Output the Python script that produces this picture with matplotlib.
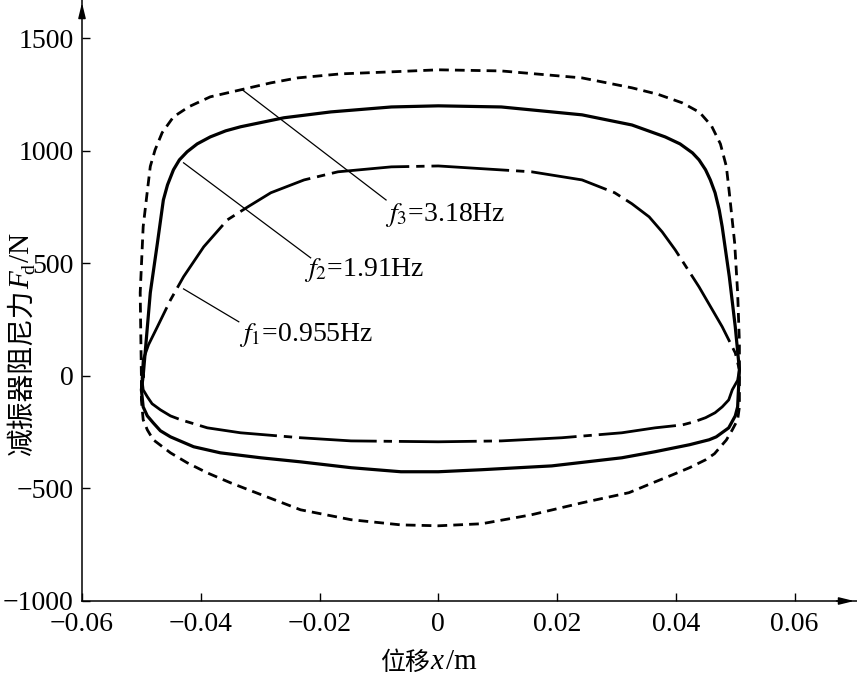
import numpy as np
import matplotlib
matplotlib.use("Agg")
import matplotlib.pyplot as plt

plt.rcParams["font.family"] = ["Liberation Serif", "Noto Sans CJK SC"]
plt.rcParams["mathtext.fontset"] = "stix"

# f3 = 3.18 Hz (dashed loop), displacement x in m, force in N
x_f3 = [-0.0500, -0.0502, -0.0497, -0.0490, -0.0485, -0.0477, -0.0465, -0.0446,
        -0.0420, -0.0384, -0.0333, -0.0282, -0.0237, -0.0164, -0.0079, 0.0,
        0.0106, 0.0242, 0.0326, 0.0370, 0.0411, 0.0440, 0.0460, 0.0475, 0.0485,
        0.0490, 0.0499, 0.0504, 0.0507, 0.0507, 0.0507, 0.0507, 0.0504, 0.0495,
        0.0485, 0.0465, 0.0450, 0.0423, 0.0394, 0.0365, 0.0321, 0.0242, 0.0157,
        0.0073, 0.0, -0.0063, -0.0147, -0.0232, -0.0311, -0.0350, -0.0389,
        -0.0423, -0.0451, -0.0480, -0.0490, -0.0497, -0.0500, -0.0500]
y_f3 = [0, 369, 662, 820, 930, 1003, 1080, 1150,
        1195, 1239, 1270, 1301, 1323, 1341, 1350, 1359,
        1354, 1323, 1279, 1250, 1212, 1170, 1110, 1030, 930,
        813, 590, 369, 147, 0, -62, -138, -195, -240,
        -285, -346, -373, -408, -440, -471, -519, -564, -617,
        -657, -666, -662, -639, -595, -515, -475, -431,
        -386, -342, -284, -240, -195, -107, 0]

# f2 = 1.91 Hz (solid loop)
x_f2 = [-0.0497, -0.0485, -0.0473, -0.0463, -0.0456, -0.0446, -0.0436, -0.0423,
        -0.0406, -0.0384, -0.0358, -0.0333, -0.0260, -0.0181, -0.0079, 0.0,
        0.0106, 0.0242, 0.0326, 0.0382, 0.0407, 0.0428, 0.0439, 0.0450, 0.0458,
        0.0466, 0.0473, 0.0478, 0.0490, 0.0500, 0.0507, 0.0504, 0.0500, 0.0489,
        0.0468, 0.0456, 0.0423, 0.0365, 0.0309, 0.0191, 0.0073, 0.0, -0.0063,
        -0.0147, -0.0232, -0.0299, -0.0367, -0.0412, -0.0451, -0.0468, -0.0480,
        -0.0490, -0.0497, -0.0500, -0.0497]
y_f2 = [0, 369, 590, 781, 848, 915, 959, 995,
        1030, 1061, 1088, 1106, 1146, 1172, 1194, 1199,
        1194, 1159, 1114, 1061, 1030, 990, 959, 915, 870,
        813, 737, 662, 440, 218, 27, -138, -178, -231,
        -271, -284, -306, -337, -364, -400, -417, -426, -426,
        -408, -382, -364, -342, -315, -271, -244, -209,
        -178, -138, -62, 0]

# f1 = 0.955 Hz (dash-dot loop)
x_f1 = [-0.0499, -0.0497, -0.0488, -0.0473, -0.0451, -0.0429, -0.0395, -0.0355,
        -0.0321, -0.0282, -0.0226, -0.0169, -0.0079, 0.0, 0.0157, 0.0242,
        0.0297, 0.0326, 0.0355, 0.0377, 0.0399, 0.0439, 0.0478, 0.0500, 0.0507,
        0.0504, 0.0495, 0.0489, 0.0478, 0.0466, 0.0450, 0.0431, 0.0411, 0.0365,
        0.0309, 0.0208, 0.0106, 0.0, -0.0147, -0.0232, -0.0333, -0.0389,
        -0.0434, -0.0451, -0.0468, -0.0482, -0.0490, -0.0497, -0.0499]
y_f1 = [-18, 71, 138, 218, 337, 440, 573, 693,
        750, 813, 870, 906, 928, 932, 906, 870,
        813, 764, 706, 639, 559, 395, 218, 102, 27,
        -20, -62, -107, -138, -164, -186, -204, -218, -231,
        -253, -275, -289, -293, -289, -275, -253, -231,
        -195, -178, -151, -124, -93, -62, -18]

labels = ["3.18Hz", "1.91Hz", "0.955Hz"]
subs = ["3", "2", "1"]
# leader line: point on curve, end near label
leader_start = [(-0.0330, 1270), (-0.0429, 946), (-0.0429, 386)]
leader_end = [(-0.0088, 781), (-0.0215, 524), (-0.0336, 240)]
label_pos = [(-0.0090, 715), (-0.0227, 470), (-0.0336, 180)]

xticks = [-0.06, -0.04, -0.02, 0, 0.02, 0.04, 0.06]
xticklabels = ["\u22120.06", "\u22120.04", "\u22120.02", "0", "0.02", "0.04", "0.06"]
yticks = [-1000, -500, 0, 500, 1000, 1500]
yticklabels = ["\u22121000", "\u2212500", "0", "500", "1000", "1500"]

fig = plt.figure(figsize=(8.57, 6.8), dpi=100)
ax = fig.add_axes([82 / 857, 79 / 680, 775 / 857, 601 / 680])

ax.plot(x_f3, y_f3, color="black", lw=2.0, linestyle=(0, (3.5, 2.2)))
ax.plot(x_f2, y_f2, color="black", lw=2.3, linestyle="-")
ax.plot(x_f1, y_f1, color="black", lw=2.0, linestyle=(0, (28, 2.5, 3, 2.5)))

for lab, sub, s, e, p in zip(labels, subs, leader_start, leader_end, label_pos):
    ax.plot([s[0], e[0]], [s[1], e[1]], color="black", lw=0.9)
    ax.text(p[0], p[1], "$f_{" + sub + "}$=" + lab, fontsize=20,
            ha="left", va="center")

ax.set_xlim(-0.06, 0.0705)
ax.set_ylim(-1000, 1669)
ax.spines["top"].set_visible(False)
ax.spines["right"].set_visible(False)
ax.spines["left"].set_linewidth(1.1)
ax.spines["bottom"].set_linewidth(1.1)

ax.set_xticks(xticks)
ax.set_xticklabels(xticklabels)
ax.set_yticks(yticks)
ax.set_yticklabels(yticklabels)
ax.tick_params(direction="in", length=6, width=1.0, labelsize=20, pad=6)
ax.tick_params(axis="x", pad=8)

# arrows at axis ends
ax.annotate("", xy=(1.0, 0), xytext=(0.97, 0), xycoords="axes fraction",
            arrowprops=dict(arrowstyle="-|>,head_length=0.9,head_width=0.22",
                            color="black", lw=1.1))
ax.annotate("", xy=(0, 1.0), xytext=(0, 0.97), xycoords="axes fraction",
            arrowprops=dict(arrowstyle="-|>,head_length=0.9,head_width=0.22",
                            color="black", lw=1.1))

# x label pieces: 位移 x /m
fig.text(380 / 857, 1 - 663 / 680, "位移", fontsize=18,
         family="Noto Sans CJK SC", ha="left", va="center")
fig.text(430 / 857, 1 - 662 / 680, "x", fontsize=21, style="italic",
         ha="left", va="center")
fig.text(446 / 857, 1 - 662 / 680, "/m", fontsize=21, ha="left", va="center")

# y label pieces: 减振器阻尼力 F_d /N (rotated)
fig.text(22 / 857, 1 - 456 / 680, "减振器阻尼力", fontsize=20, rotation=90,
         family="Noto Sans CJK SC", ha="center", va="bottom")
fig.text(22 / 857, 1 - 289 / 680, "F", fontsize=21, style="italic",
         rotation=90, ha="center", va="bottom")
fig.text(30 / 857, 1 - 274 / 680, "d", fontsize=14, rotation=90,
         ha="center", va="bottom")
fig.text(22 / 857, 1 - 262 / 680, "/N", fontsize=21, rotation=90,
         ha="center", va="bottom")

plt.savefig("out.png", dpi=100)
